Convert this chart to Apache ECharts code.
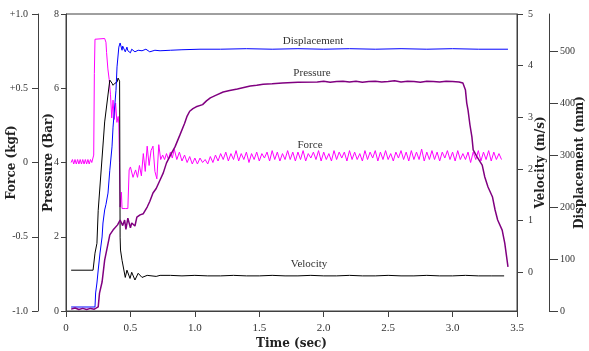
<!DOCTYPE html>
<html>
<head>
<meta charset="utf-8">
<script src="https://cdn.jsdelivr.net/npm/echarts@6/dist/echarts.min.js"></script>
<style>
  html, body { margin: 0; padding: 0; background: #fff; }
  #chart { width: 589px; height: 351px; }
</style>
</head>
<body>
<div id="chart"></div>
<script>
// axis ticks
const velocityTicks = [0, 1, 2, 3, 4, 5];
const displacementTicks = [0, 100, 200, 300, 400, 500];

// force (kgf): start-up and release transient, [time, value]
const forceLead = [
    [0.04, 0.00], [0.05, 0.02], [0.06, -0.01], [0.07, 0.02], [0.08, -0.01], [0.09, 0.02],
    [0.10, -0.01], [0.11, 0.02], [0.12, -0.01], [0.13, 0.02], [0.14, -0.01], [0.15, 0.02],
    [0.16, -0.01], [0.17, 0.02], [0.18, -0.01], [0.19, 0.02], [0.20, 0.00], [0.21, 0.01],
    [0.215, 0.05], [0.22, 0.60], [0.225, 0.83], [0.23, 0.835], [0.30, 0.835], [0.31, 0.81],
    [0.315, 0.74], [0.325, 0.63], [0.335, 0.56], [0.345, 0.46], [0.355, 0.30], [0.365, 0.42],
    [0.375, 0.29], [0.385, 0.40], [0.395, 0.27], [0.405, 0.31], [0.41, 0.26], [0.415, 0.00],
    [0.42, -0.30], [0.43, -0.20], [0.435, -0.31], [0.46, -0.31], [0.48, -0.31], [0.49, -0.05],
    [0.50, -0.03], [0.52, -0.10], [0.54, -0.05], [0.555, -0.10], [0.57, -0.02], [0.585, -0.09],
    [0.60, 0.06], [0.615, -0.06], [0.63, 0.11], [0.645, -0.02], [0.66, 0.08], [0.675, 0.11],
    [0.69, -0.06], [0.705, -0.11], [0.72, 0.12], [0.735, 0.02], [0.75, 0.05], [0.765, 0.02],
    [0.78, 0.06], [0.795, 0.02], [0.81, 0.07], [0.825, 0.03], [0.84, 0.09]
];
// force (kgf): ripple sampled every 0.02 s from 0.86 s
const forceRippleStart = 0.86;
const forceRippleStep = 0.02;
const forceRipple = [
    0.02, 0.07, 0.01, 0.05, 0.00, 0.04, -0.01, 0.03, -0.01, 0.03, 0.00, 0.02, -0.01, 0.04, 0.00, 0.05, 0.01, 0.06,
    0.02, 0.07, 0.01, 0.06, 0.02, 0.08, 0.01, 0.06, 0.02, 0.07,
    0.00, 0.06, 0.02, 0.07, 0.01, 0.06, 0.03, 0.07, 0.01, 0.08,
    0.02, 0.07, 0.01, 0.06, 0.02, 0.08, 0.02, 0.07, 0.01, 0.07,
    0.02, 0.08, 0.01, 0.06, 0.03, 0.07, 0.02, 0.08, 0.01, 0.07,
    0.02, 0.06, 0.01, 0.08, 0.02, 0.07, 0.03, 0.07, 0.01, 0.08,
    0.02, 0.07, 0.02, 0.06, 0.01, 0.08, 0.02, 0.07, 0.03, 0.08,
    0.01, 0.07, 0.02, 0.08, 0.02, 0.06, 0.01, 0.07, 0.03, 0.08,
    0.02, 0.07, 0.01, 0.08, 0.02, 0.07, 0.02, 0.09, 0.01, 0.07,
    0.02, 0.08, 0.02, 0.07, 0.01, 0.07, 0.03, 0.08, 0.02, 0.07,
    0.01, 0.08, 0.02, 0.06, 0.02, 0.07, 0.00, 0.07, 0.02, 0.08,
    0.01, 0.07, 0.02, 0.08, 0.01, 0.07, 0.02, 0.06, 0.02
];

// pressure (Bar), [time, value]
const pressure = [
    [0.04, 0.05], [0.07, 0.08], [0.10, 0.04], [0.13, 0.07], [0.16, 0.04], [0.19, 0.07], [0.22, 0.05],
    [0.25, 0.11], [0.26, 0.48], [0.28, 0.78], [0.30, 1.37], [0.34, 2.05], [0.365, 2.18], [0.40, 2.32],
    [0.42, 2.45], [0.44, 2.30], [0.455, 2.45], [0.465, 2.20], [0.48, 2.50], [0.50, 2.24], [0.51, 2.37],
    [0.535, 2.29], [0.55, 2.53], [0.575, 2.59], [0.60, 2.62], [0.63, 2.80], [0.65, 2.95], [0.675, 3.18],
    [0.70, 3.30], [0.73, 3.53], [0.755, 3.72], [0.78, 3.99], [0.82, 4.26], [0.846, 4.42], [0.885, 4.75],
    [0.92, 5.05], [0.94, 5.25], [0.96, 5.38], [0.985, 5.45], [1.01, 5.50], [1.06, 5.56], [1.09, 5.66],
    [1.12, 5.74], [1.17, 5.82], [1.22, 5.90], [1.27, 5.94], [1.33, 5.98], [1.38, 6.02], [1.43, 6.06],
    [1.48, 6.08], [1.53, 6.11], [1.60, 6.12], [1.68, 6.14], [1.80, 6.16], [1.95, 6.17], [2.00, 6.19],
    [2.05, 6.16], [2.10, 6.18], [2.15, 6.19], [2.20, 6.17], [2.25, 6.19], [2.30, 6.16], [2.35, 6.18],
    [2.40, 6.19], [2.45, 6.17], [2.50, 6.18], [2.55, 6.20], [2.60, 6.17], [2.65, 6.19], [2.70, 6.18],
    [2.75, 6.16], [2.80, 6.19], [2.85, 6.18], [2.90, 6.17], [2.95, 6.19], [3.00, 6.18], [3.05, 6.17],
    [3.08, 6.14], [3.10, 5.95], [3.11, 5.60], [3.12, 5.41], [3.135, 5.01], [3.15, 4.69], [3.16, 4.34],
    [3.19, 4.15], [3.23, 3.93], [3.25, 3.61], [3.275, 3.34], [3.31, 3.07], [3.33, 2.72], [3.35, 2.45],
    [3.385, 2.18], [3.405, 1.83], [3.415, 1.78], [3.43, 1.19]
];

// velocity (m/s), [time, value]
const velocity = [
    [0.04, 0.04], [0.21, 0.04], [0.225, 0.37], [0.24, 0.56], [0.25, 1.20], [0.29, 2.56], [0.30, 2.91],
    [0.34, 3.72], [0.357, 3.66], [0.365, 3.62], [0.38, 3.66], [0.396, 3.68], [0.404, 3.76], [0.41, 3.78],
    [0.416, 3.70], [0.42, 0.68], [0.423, 0.43], [0.435, 0.23], [0.46, -0.10], [0.473, 0.04], [0.497, -0.12],
    [0.51, 0.00], [0.535, -0.15], [0.56, -0.02], [0.59, -0.10], [0.63, -0.06], [0.70, -0.08], [0.73, -0.06],
    [0.81, -0.06], [0.90, -0.07], [1.00, -0.06], [1.10, -0.07], [1.20, -0.07], [1.30, -0.06], [1.40, -0.07],
    [1.50, -0.07], [1.60, -0.06], [1.70, -0.07], [1.80, -0.07], [1.90, -0.06], [2.00, -0.07], [2.10, -0.07],
    [2.20, -0.06], [2.30, -0.07], [2.40, -0.07], [2.50, -0.06], [2.60, -0.07], [2.70, -0.07], [2.80, -0.06],
    [2.90, -0.07], [3.00, -0.07], [3.10, -0.06], [3.20, -0.07], [3.30, -0.07], [3.40, -0.07]
];

// displacement (mm), [time, value]
const displacement = [
    [0.04, 7.7], [0.225, 7.7], [0.23, 34.7], [0.24, 53.9], [0.25, 78.9], [0.264, 111.7], [0.28, 142.5],
    [0.287, 169.4], [0.30, 194.5], [0.31, 205], [0.326, 227], [0.34, 271], [0.357, 316], [0.365, 354],
    [0.388, 425], [0.396, 470], [0.41, 508], [0.42, 516], [0.435, 502], [0.44, 510], [0.46, 499],
    [0.473, 508], [0.48, 501], [0.50, 497], [0.51, 504], [0.535, 499], [0.56, 502], [0.59, 501],
    [0.62, 504], [0.65, 499], [0.69, 502], [0.73, 501], [0.81, 502], [0.90, 503], [1.04, 504],
    [1.20, 504], [1.40, 505], [1.60, 504], [1.80, 505], [2.00, 504], [2.20, 505], [2.40, 504],
    [2.60, 505], [2.80, 504], [3.00, 505], [3.20, 504], [3.43, 504]
];

const seriesLabels = ["Displacement", "Pressure", "Force", "Velocity"];

const axisColor = "#404040";
const tickFont = { fontFamily: "Liberation Serif", fontSize: 11, color: "#333" };
const yTickFont = { ...tickFont, fontSize: 10 };
const nameFont = { fontFamily: "DejaVu Serif", fontSize: 12, fontWeight: "bold", color: "#222" };

const force = forceLead.concat(
    forceRipple.map((v, i) => [+(forceRippleStart + i * forceRippleStep).toFixed(3), v])
);

const chart = echarts.init(document.getElementById("chart"), null, { renderer: "canvas" });

const yAxisBase = {
    type: "value",
    nameLocation: "middle",
    nameMoveOverlap: false,
    nameTextStyle: nameFont,
    axisLine: { show: true, onZero: false, lineStyle: { color: axisColor, width: 1 } },
    splitLine: { show: false },
};

const option = {
    animation: false,
    backgroundColor: "#fff",
    grid: {
        left: 66,
        right: 72,
        top: 14,
        bottom: 40,
        show: true,
        borderColor: axisColor,
        borderWidth: 1,
        containLabel: false,
        outerBoundsMode: "none",
    },
    xAxis: {
        type: "value",
        min: 0,
        max: 3.5,
        interval: 0.5,
        name: "Time (sec)",
        nameLocation: "middle",
        nameMoveOverlap: false,
        nameGap: 27,
        nameTextStyle: nameFont,
        axisLine: { onZero: false, lineStyle: { color: axisColor, width: 1 } },
        axisTick: { length: 6, lineStyle: { color: axisColor } },
        axisLabel: {
            ...tickFont,
            margin: 12,
            formatter: (v) => (v === 0 ? "0" : v.toFixed(1)),
        },
        splitLine: { show: false },
    },
    yAxis: [
        {
            ...yAxisBase,
            position: "left",
            offset: 28,
            min: -1,
            max: 1,
            interval: 0.5,
            name: "Force (kgf)",
            nameGap: 20,
            axisTick: { length: 6, lineStyle: { color: axisColor } },
            axisLabel: {
                ...yTickFont,
                margin: 10,
                formatter: (v) => (v > 0 ? "+" + v.toFixed(1) : v === 0 ? "0" : v.toFixed(1)),
            },
        },
        {
            ...yAxisBase,
            position: "left",
            offset: 0,
            min: 0,
            max: 8,
            interval: 2,
            name: "Pressure (Bar)",
            nameGap: 11,
            axisTick: { length: 5, lineStyle: { color: axisColor } },
            axisLabel: { ...yTickFont, margin: 7 },
        },
        {
            ...yAxisBase,
            position: "right",
            offset: 0,
            min: -0.75,
            max: 5,
            name: "Velocity (m/s)",
            nameGap: 18,
            axisTick: { length: 6, customValues: velocityTicks, lineStyle: { color: axisColor } },
            axisLabel: { ...yTickFont, margin: 11, customValues: velocityTicks },
        },
        {
            ...yAxisBase,
            position: "right",
            offset: 32,
            min: 0,
            max: 571.8,
            name: "Displacement (mm)",
            nameGap: 25,
            axisTick: { length: 9, customValues: displacementTicks, lineStyle: { color: axisColor } },
            axisLabel: { ...yTickFont, margin: 11, customValues: displacementTicks },
        },
    ],
    graphic: [
        { type: "text", x: 313, y: 41, style: { text: seriesLabels[0] } },
        { type: "text", x: 312, y: 73, style: { text: seriesLabels[1] } },
        { type: "text", x: 310, y: 145, style: { text: seriesLabels[2] } },
        { type: "text", x: 309, y: 264, style: { text: seriesLabels[3] } },
    ].map((g) => ({
        ...g,
        style: {
            ...g.style,
            fill: "#333",
            font: "11px 'Liberation Serif'",
            textAlign: "center",
            textVerticalAlign: "middle",
        },
    })),
    series: [
        {
            name: "Force",
            type: "line",
            yAxisIndex: 0,
            data: force,
            symbol: "none",
            lineStyle: { color: "#ff00ff", width: 1 },
        },
        {
            name: "Velocity",
            type: "line",
            yAxisIndex: 2,
            data: velocity,
            symbol: "none",
            lineStyle: { color: "#000000", width: 1 },
        },
        {
            name: "Displacement",
            type: "line",
            yAxisIndex: 3,
            data: displacement,
            symbol: "none",
            lineStyle: { color: "#0000ff", width: 1 },
        },
        {
            name: "Pressure",
            type: "line",
            yAxisIndex: 1,
            data: pressure,
            symbol: "none",
            lineStyle: { color: "#800080", width: 1.5 },
        },
    ],
};

chart.setOption(option);
</script>
</body>
</html>
